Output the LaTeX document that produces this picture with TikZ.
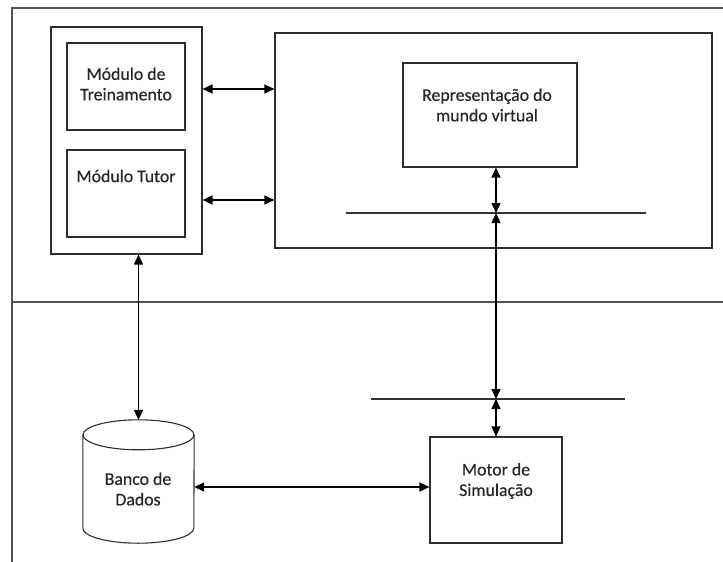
\documentclass[tikz,border=0pt]{standalone}
\usepackage{fontspec}
\setmainfont[FakeBold=0.4]{Carlito}
\usetikzlibrary{arrows.meta,calc}

\begin{document}
\begin{tikzpicture}[x=1pt,y=-1pt,
  frame/.style={draw=black!68,line width=1.6pt},
  box/.style={draw=black!82,line width=1.1pt,inner sep=0pt,rectangle},
  txt/.style={align=center,inner sep=0pt,text=black!85,font=\fontsize{17.8pt}{20.5pt}\selectfont},
  busline/.style={draw=black!80,line width=1.1pt},
  tip/.tip={Triangle[length=10pt,width=9pt]},
  conn/.style={tip-tip,line width=1.4pt,black}]
  \useasboundingbox (0,0) rectangle (723,562);

  % page frame and separator between the two layers
  \coordinate (fTR) at (723,8);
  \coordinate (fTL) at (12,8);
  \coordinate (fBL) at (12,562);
  \coordinate (sL) at (12,302);
  \coordinate (sR) at (723,302);
  \draw[frame] (fTR) -- (fTL) -- (fBL);
  \draw[frame] (sL) -- (sR);

  % interface block with its two modules
  \node[box,minimum width=151pt,minimum height=227pt] (lbox) at (126.5,140.5) {};
  \node[box,minimum width=118pt,minimum height=87pt] (train) at (126,86.5) {};
  \node[box,minimum width=118pt,minimum height=87pt] (tutor) at (126,193.5) {};
  \node[txt] (trainT) at (126,84) {Módulo de\\Treinamento};
  \node[txt] (tutorT) at (126,176) {Módulo Tutor};

  % virtual world block
  \node[box,minimum width=437pt,minimum height=215pt] (world) at (493.5,140.5) {};
  \node[box,minimum width=174pt,minimum height=104pt] (rep) at (490,115) {};
  \node[txt] (repT) at (487,105) {Representação do\\mundo virtual};

  % simulation engine
  \node[box,minimum width=132pt,minimum height=106pt] (motor) at (496,490) {};
  \node[txt] (motorT) at (496,481) {Motor de\\Simulação};

  % database cylinder
  \node[inner sep=0pt,minimum width=111pt,minimum height=123pt] (db) at (138.5,481.5) {};
  \draw[box,fill=white] ($(db.north west)+(0,15)$) -- ($(db.south west)+(0,-15)$)
    arc[start angle=180,end angle=360,x radius=55.5pt,y radius=15pt]
    -- ($(db.north east)+(0,15)$);
  \draw[box] ($(db.north)+(0,15)$) ellipse[x radius=55.5pt,y radius=15pt];
  \node[txt] (dbT) at (138,489) {Banco de\\Dados};

  % horizontal bus lines
  \coordinate (bus1L) at (346,213);
  \coordinate (bus1R) at (646,213);
  \coordinate (bus2L) at (371,399);
  \coordinate (bus2R) at (625,399);
  \draw[busline] (bus1L) -- (bus1R);
  \draw[busline] (bus2L) -- (bus2R);
  \coordinate (b1) at (motor.north |- bus1L);
  \coordinate (b2) at (motor.north |- bus2L);

  % connectors
  \coordinate (r1) at (0,89);
  \coordinate (r2) at (0,200);
  \draw[conn] (lbox.east |- r1) -- (world.west |- r1);
  \draw[conn] (lbox.east |- r2) -- (world.west |- r2);
  \draw[conn] (rep.south -| b1) -- (b1);
  \draw[conn] (b1) -- (b2);
  \draw[conn] (b2) -- (motor.north);
  \draw[conn] (lbox.south -| db.north) -- (db.north);
  \coordinate (dm) at ([yshift=3pt]motor.west);
  \draw[conn] (db.east |- dm) -- (dm);
\end{tikzpicture}
\end{document}
